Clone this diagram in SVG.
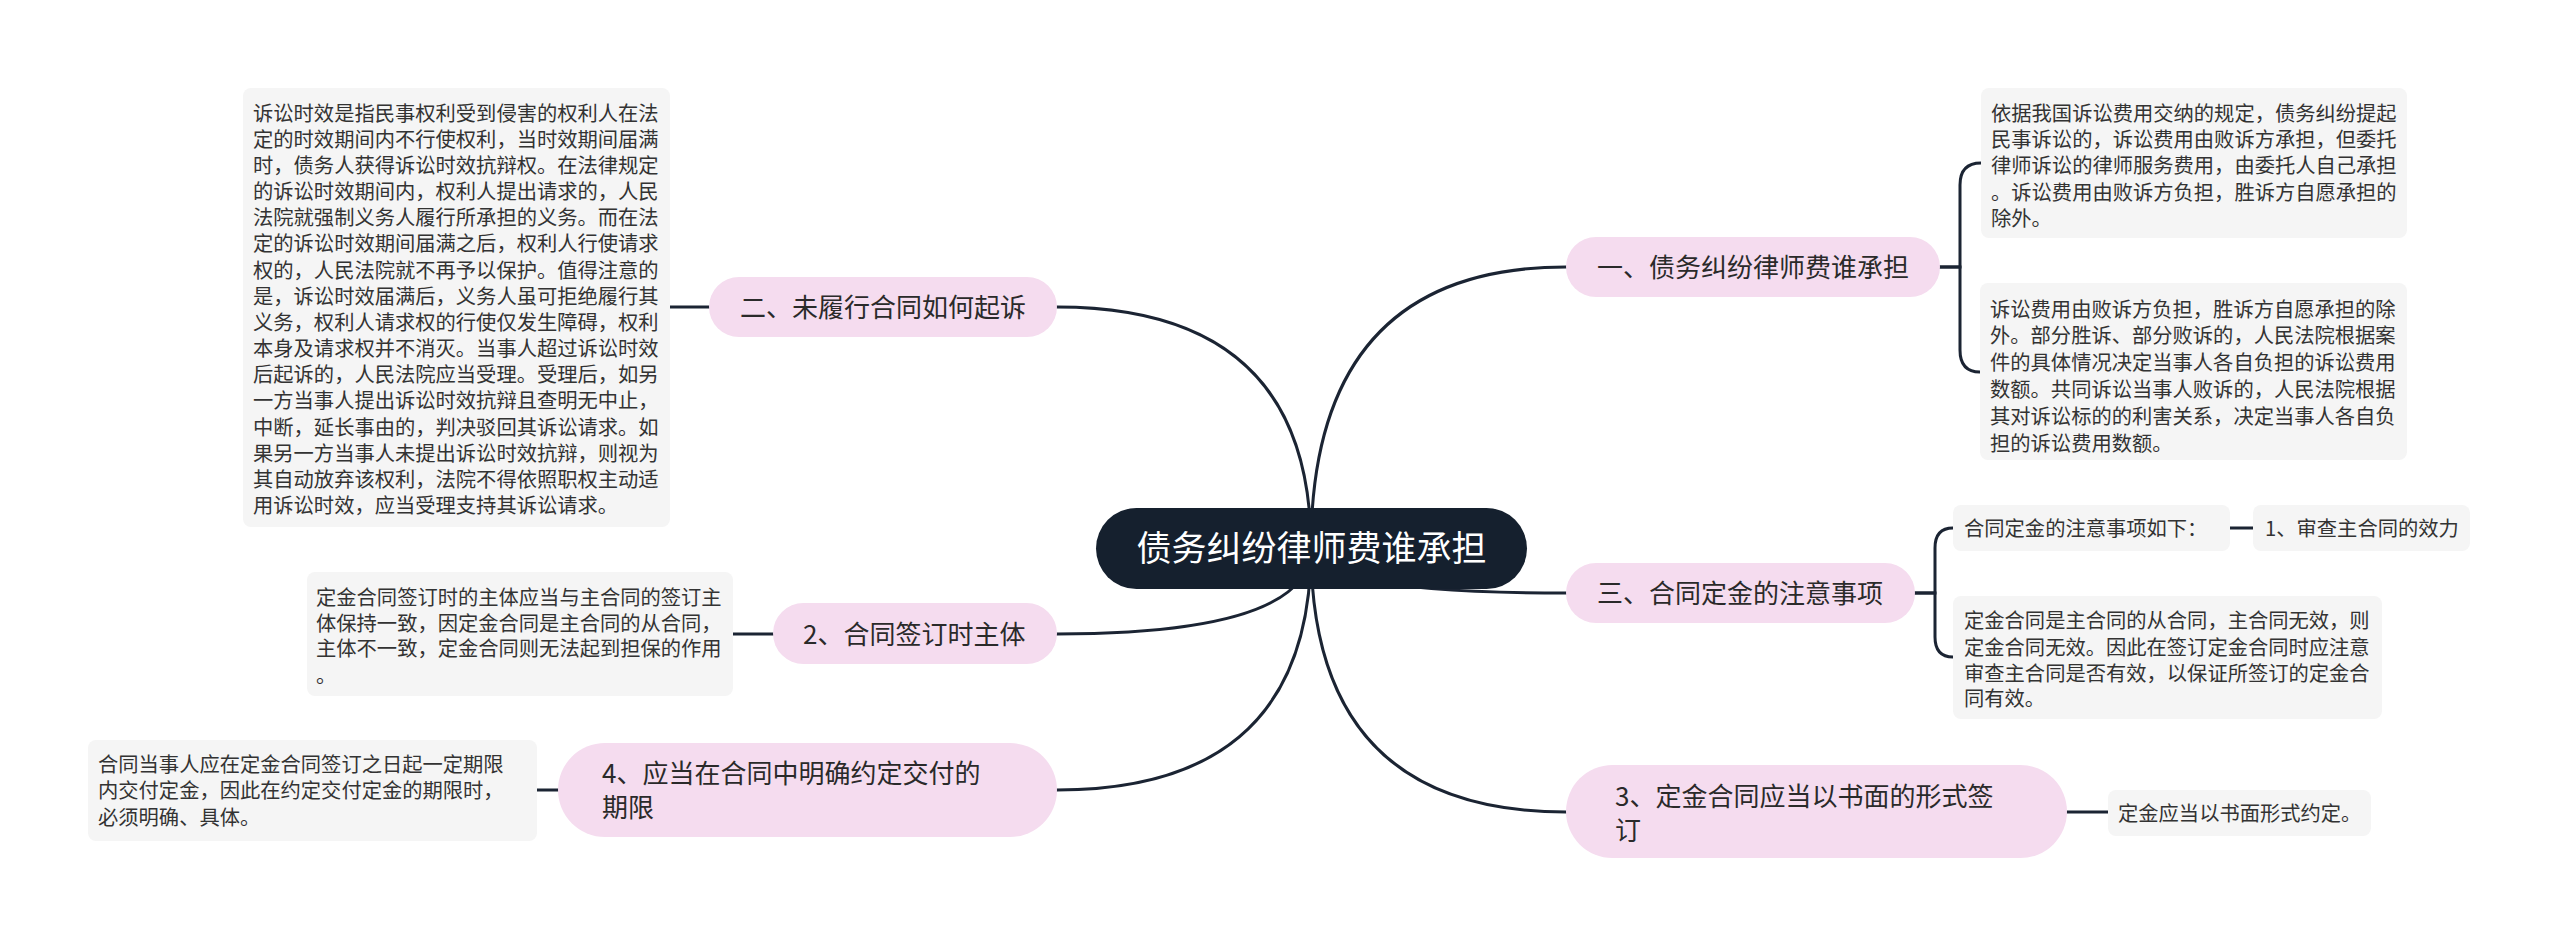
<svg xmlns="http://www.w3.org/2000/svg" width="2560" height="948" viewBox="0 0 2560 948">
<style>
.lnk{fill:none;stroke:#1b2433;stroke-width:3;stroke-linecap:round}
.topic{fill:#f5dcef}
.note{fill:#f5f5f5}
.tt{font-family:"Noto Sans CJK SC","Noto Sans",sans-serif;font-size:26px;fill:#2a2a2a}
.nt{font-family:"Noto Sans CJK SC","Noto Sans",sans-serif;font-size:20.3px;fill:#333333}
.ct{font-family:"Noto Sans CJK SC","Noto Sans",sans-serif;font-size:35px;fill:#ffffff}
</style>
<rect width="2560" height="948" fill="#ffffff"/>
<g id="connectors">
<path class="lnk" d="M1311,548 Q1311,267 1566,267"/>
<path class="lnk" d="M1311,548 Q1311,307 1057,307"/>
<path class="lnk" d="M1311,548 Q1311,593 1566,593"/>
<path class="lnk" d="M1311,548 Q1311,812 1566,812"/>
<path class="lnk" d="M1311,548 Q1311,634 1057,634"/>
<path class="lnk" d="M1311,548 Q1311,790 1057,790"/>
<path class="lnk" d="M1940,267 H1960 V185 Q1960,163 1981,163"/>
<path class="lnk" d="M1940,267 H1960 V350 Q1960,372 1980,372"/>
<path class="lnk" d="M1915,593 H1935 V548 Q1935,528 1953,528"/>
<path class="lnk" d="M1915,593 H1935 V637 Q1935,657 1953,657"/>
<path class="lnk" d="M2230,528 H2253"/>
<path class="lnk" d="M2067,812 H2108"/>
<path class="lnk" d="M709,307 H670"/>
<path class="lnk" d="M773,634 H733"/>
<path class="lnk" d="M558,790 H537"/>
</g>
<g id="center">
<rect x="1096" y="508" width="431" height="81" rx="40.5" fill="#15202e"/>
<text class="ct" x="1311.5" y="561" text-anchor="middle">债务纠纷律师费谁承担</text>
</g>
<g id="n1">
<rect class="topic" x="1566" y="237" width="374" height="60" rx="30"/>
<text class="tt" x="1597" y="277">一、债务纠纷律师费谁承担</text>
</g>
<g id="n1a">
<rect class="note" x="1981" y="88" width="426" height="150" rx="8"/>
<text class="nt" x="1991" y="121">依据我国诉讼费用交纳的规定，债务纠纷提起</text>
<text class="nt" x="1991" y="147">民事诉讼的，诉讼费用由败诉方承担，但委托</text>
<text class="nt" x="1991" y="173">律师诉讼的律师服务费用，由委托人自己承担</text>
<text class="nt" x="1991" y="200">。诉讼费用由败诉方负担，胜诉方自愿承担的</text>
<text class="nt" x="1991" y="226">除外。</text>
</g>
<g id="n1b">
<rect class="note" x="1980" y="283" width="427" height="177" rx="8"/>
<text class="nt" x="1990" y="317">诉讼费用由败诉方负担，胜诉方自愿承担的除</text>
<text class="nt" x="1990" y="343">外。部分胜诉、部分败诉的，人民法院根据案</text>
<text class="nt" x="1990" y="370">件的具体情况决定当事人各自负担的诉讼费用</text>
<text class="nt" x="1990" y="397">数额。共同诉讼当事人败诉的，人民法院根据</text>
<text class="nt" x="1990" y="424">其对诉讼标的的利害关系，决定当事人各自负</text>
<text class="nt" x="1990" y="451">担的诉讼费用数额。</text>
</g>
<g id="n2">
<rect class="topic" x="709" y="277" width="348" height="60" rx="30"/>
<text class="tt" x="740" y="317">二、未履行合同如何起诉</text>
</g>
<g id="n2a">
<rect class="note" x="243" y="88" width="427" height="439" rx="8"/>
<text class="nt" x="253" y="121">诉讼时效是指民事权利受到侵害的权利人在法</text>
<text class="nt" x="253" y="147">定的时效期间内不行使权利，当时效期间届满</text>
<text class="nt" x="253" y="173">时，债务人获得诉讼时效抗辩权。在法律规定</text>
<text class="nt" x="253" y="199">的诉讼时效期间内，权利人提出请求的，人民</text>
<text class="nt" x="253" y="225">法院就强制义务人履行所承担的义务。而在法</text>
<text class="nt" x="253" y="251">定的诉讼时效期间届满之后，权利人行使请求</text>
<text class="nt" x="253" y="278">权的，人民法院就不再予以保护。值得注意的</text>
<text class="nt" x="253" y="304">是，诉讼时效届满后，义务人虽可拒绝履行其</text>
<text class="nt" x="253" y="330">义务，权利人请求权的行使仅发生障碍，权利</text>
<text class="nt" x="253" y="356">本身及请求权并不消灭。当事人超过诉讼时效</text>
<text class="nt" x="253" y="382">后起诉的，人民法院应当受理。受理后，如另</text>
<text class="nt" x="253" y="408">一方当事人提出诉讼时效抗辩且查明无中止，</text>
<text class="nt" x="253" y="435">中断，延长事由的，判决驳回其诉讼请求。如</text>
<text class="nt" x="253" y="461">果另一方当事人未提出诉讼时效抗辩，则视为</text>
<text class="nt" x="253" y="487">其自动放弃该权利，法院不得依照职权主动适</text>
<text class="nt" x="253" y="513">用诉讼时效，应当受理支持其诉讼请求。</text>
</g>
<g id="n3">
<rect class="topic" x="1566" y="563" width="349" height="60" rx="30"/>
<text class="tt" x="1597" y="603">三、合同定金的注意事项</text>
</g>
<g id="n3a">
<rect class="note" x="1953" y="505" width="277" height="46" rx="8"/>
<text class="nt" x="1964" y="536">合同定金的注意事项如下：</text>
</g>
<g id="n3a1">
<rect class="note" x="2253" y="505" width="217" height="46" rx="8"/>
<text class="nt" x="2265" y="536">1、审查主合同的效力</text>
</g>
<g id="n3b">
<rect class="note" x="1953" y="596" width="429" height="123" rx="8"/>
<text class="nt" x="1964" y="628">定金合同是主合同的从合同，主合同无效，则</text>
<text class="nt" x="1964" y="655">定金合同无效。因此在签订定金合同时应注意</text>
<text class="nt" x="1964" y="681">审查主合同是否有效，以保证所签订的定金合</text>
<text class="nt" x="1964" y="706">同有效。</text>
</g>
<g id="n4">
<rect class="topic" x="1566" y="765" width="501" height="93" rx="46.5"/>
<text class="tt" x="1615" y="806">3、定金合同应当以书面的形式签</text>
<text class="tt" x="1615" y="840">订</text>
</g>
<g id="n4a">
<rect class="note" x="2108" y="790" width="263" height="46" rx="8"/>
<text class="nt" x="2118" y="821">定金应当以书面形式约定。</text>
</g>
<g id="n5">
<rect class="topic" x="773" y="603" width="284" height="61" rx="30.5"/>
<text class="tt" x="803" y="644">2、合同签订时主体</text>
</g>
<g id="n5a">
<rect class="note" x="307" y="572" width="426" height="124" rx="8"/>
<text class="nt" x="316" y="605">定金合同签订时的主体应当与主合同的签订主</text>
<text class="nt" x="316" y="631">体保持一致，因定金合同是主合同的从合同，</text>
<text class="nt" x="316" y="656">主体不一致，定金合同则无法起到担保的作用</text>
<text class="nt" x="316" y="683">。</text>
</g>
<g id="n6">
<rect class="topic" x="558" y="743" width="499" height="94" rx="47"/>
<text class="tt" x="602" y="783">4、应当在合同中明确约定交付的</text>
<text class="tt" x="602" y="817">期限</text>
</g>
<g id="n6a">
<rect class="note" x="88" y="740" width="449" height="101" rx="8"/>
<text class="nt" x="98" y="772">合同当事人应在定金合同签订之日起一定期限</text>
<text class="nt" x="98" y="798">内交付定金，因此在约定交付定金的期限时，</text>
<text class="nt" x="98" y="825">必须明确、具体。</text>
</g>
</svg>
